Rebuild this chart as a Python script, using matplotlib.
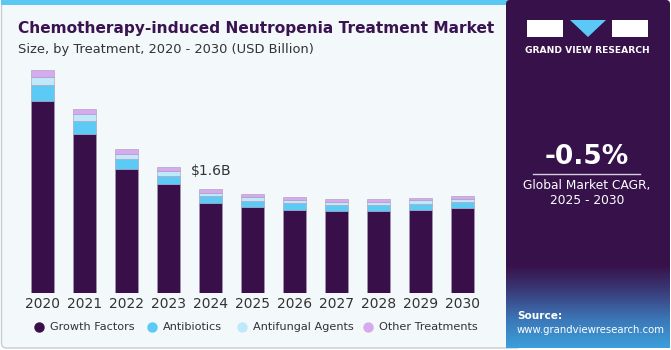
import numpy as np
import matplotlib.pyplot as plt
from matplotlib.patches import Rectangle, Polygon, FancyBboxPatch
from matplotlib.colors import LinearSegmentedColormap

years = ["2020", "2021", "2022", "2023", "2024", "2025", "2026", "2027", "2028", "2029", "2030"]
growth_factors = [2.98, 2.47, 1.93, 1.69, 1.40, 1.33, 1.29, 1.27, 1.27, 1.29, 1.32]
antibiotics = [0.25, 0.20, 0.15, 0.12, 0.11, 0.10, 0.10, 0.10, 0.10, 0.09, 0.09]
antifungal = [0.12, 0.11, 0.08, 0.08, 0.05, 0.06, 0.06, 0.05, 0.05, 0.06, 0.05]
other = [0.11, 0.08, 0.07, 0.06, 0.05, 0.04, 0.04, 0.04, 0.04, 0.03, 0.04]
series_names = ["Growth Factors", "Antibiotics", "Antifungal Agents", "Other Treatments"]
colors = ["#380F48", "#5BCBF6", "#BFE9FB", "#D5AAEE"]
W, H = 671, 350

fig = plt.figure(figsize=(W / 100, H / 100), dpi=100)
fig.patch.set_facecolor("white")

# background card
bg = fig.add_axes([0, 0, 1, 1])
bg.set_xlim(0, W)
bg.set_ylim(H, 0)
bg.axis("off")
bg.add_patch(FancyBboxPatch((1.5, 2), 520, 346, boxstyle="round,pad=0,rounding_size=5",
                            facecolor="#F3F8FB", edgecolor="#C8CCD0", lw=1.0))
bg.add_patch(Rectangle((1, 0), 510, 5, facecolor="#5BC8F2", edgecolor="none"))

# titles
bg.text(18, 29, "Chemotherapy-induced Neutropenia Treatment Market", color="#3A1450",
        fontsize=11.1, fontweight="heavy", ha="left", va="center")
bg.text(18, 49, "Size, by Treatment, 2020 - 2030 (USD Billion)", color="#333333",
        fontsize=9.4, ha="left", va="center")

# right panel
bg.add_patch(FancyBboxPatch((506, 0), 164, 348, boxstyle="round,pad=0,rounding_size=4",
                            facecolor="#37114A", edgecolor="none", zorder=2))
grad = np.linspace(0, 1, 100)[:, None]
cmap = LinearSegmentedColormap.from_list("g", ["#37114A", "#3A3F7E", "#3C78B8", "#3B9FDB"])
bg.imshow(grad, extent=(506, 670, 348, 265), cmap=cmap, aspect="auto", zorder=2)

# logo
bg.add_patch(Rectangle((527, 20), 36, 17, facecolor="white", edgecolor="none", zorder=3))
bg.add_patch(Polygon([(570, 20), (606, 20), (588, 37)], facecolor="#5BC8F5", edgecolor="none", zorder=3))
bg.add_patch(Rectangle((612, 20), 36, 17, facecolor="white", edgecolor="none", zorder=3))
bg.text(587.5, 50.5, "GRAND VIEW RESEARCH", color="white", fontsize=6.6, fontweight="bold",
        ha="center", va="center", zorder=3)
bg.text(587, 157, "-0.5%", color="white", fontsize=19, fontweight="bold", ha="center", va="center", zorder=3)
bg.plot([533, 640], [173.5, 173.5], color="#D8D0E0", lw=1, zorder=3)
bg.text(587, 185, "Global Market CAGR,", color="white", fontsize=8.8, ha="center", va="center", zorder=3)
bg.text(587, 200.5, "2025 - 2030", color="white", fontsize=8.8, ha="center", va="center", zorder=3)
bg.text(517, 316, "Source:", color="white", fontsize=7.6, fontweight="bold", ha="left", va="center", zorder=3)
bg.text(517, 330, "www.grandviewresearch.com", color="white", fontsize=7.3, ha="left", va="center", zorder=3)

# chart axes
px = 42.0
x0 = 42.7 - 0.5 * px
base = 293.0
scale = 0.01553
top = 60.0
ax = fig.add_axes([x0 / W, (H - base) / H, 11 * px / W, (base - top) / H])
ax.set_xlim(-0.5, 10.5)
ax.set_ylim(0, (base - top) * scale)
ax.patch.set_alpha(0)
for s in ax.spines.values():
    s.set_visible(False)
ax.set_yticks([])

x = np.arange(len(years))
bottom = np.zeros(len(years))
for vals, c, name in zip([growth_factors, antibiotics, antifungal, other], colors, series_names):
    ax.bar(x, vals, 0.55, bottom=bottom, color=c, edgecolor="#A898B8", linewidth=0.4, label=name)
    bottom = bottom + np.array(vals)

ax.set_xticks(x)
ax.set_xticklabels(years, fontsize=10, color="#333333")
ax.tick_params(axis="x", length=0, pad=3)

ax.annotate("$1.6B", (x[4], bottom[4]), xytext=(0, 13), textcoords="offset points",
            ha="center", va="center", fontsize=10, color="#333333")

# legend
leg_dots = [39, 152, 242, 368]
for lx, c, name in zip(leg_dots, colors, series_names):
    bg.scatter([lx], [327], s=42, color=c, zorder=3)
    bg.text(lx + 11, 327, name, fontsize=8.1, color="#333333", ha="left", va="center")

fig.savefig("out.png", dpi=100, facecolor=fig.get_facecolor())
